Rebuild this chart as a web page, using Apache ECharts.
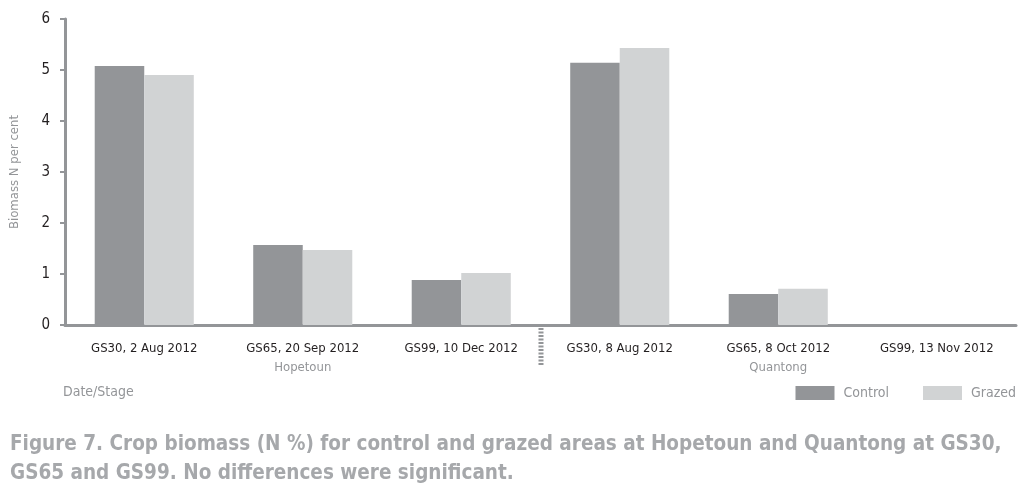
<!DOCTYPE html>
<html>
<head>
<meta charset="utf-8">
<script src="https://cdn.jsdelivr.net/npm/echarts@6/dist/echarts.min.js"></script>
<style>
html,body{margin:0;padding:0;background:#fff;}
#c{width:1019px;height:498px;}
</style>
</head>
<body>
<div id="c"></div>
<script>
const categories = ["GS30, 2 Aug 2012","GS65, 20 Sep 2012","GS99, 10 Dec 2012","GS30, 8 Aug 2012","GS65, 8 Oct 2012","GS99, 13 Nov 2012"];
const groupLabels = ["", "Hopetoun", "", "", "Quantong", ""];
const controlValues = [5.08, 1.57, 0.88, 5.14, 0.61, 0];
const grazedValues = [4.90, 1.47, 1.02, 5.43, 0.71, 0];
const yTicks = [0, 1, 2, 3, 4, 5, 6];

const FONT = '"DejaVu Sans Condensed", "Liberation Sans Narrow", sans-serif';
const GREY = '#939598';
const LIGHT = '#d1d3d4';
const DARK = '#231f20';

const chart = echarts.init(document.getElementById('c'));
const option = {
  animation: false,
  backgroundColor: '#fff',
  textStyle: { fontFamily: FONT },
  title: {
    text: 'Figure 7. Crop biomass (N %) for control and grazed areas at Hopetoun and Quantong at GS30,\nGS65 and GS99. No differences were significant.',
    left: 5, top: 425,
    textStyle: { fontFamily: FONT, fontWeight: 'bold', fontSize: 20.5, color: '#a6a8ab', lineHeight: 29 }
  },
  legend: {
    right: 0, top: 381, padding: [5, 3, 5, 5],
    itemWidth: 39, itemHeight: 14, itemGap: 34,
    icon: 'rect',
    textStyle: { fontFamily: FONT, fontSize: 14, color: GREY, padding: [0, 0, 0, 4] },
    data: ['Control', 'Grazed']
  },
  grid: { left: 65, right: 3, top: 19, bottom: 173, containLabel: false },
  xAxis: {
    type: 'category',
    data: categories,
    name: 'Date/Stage',
    nameLocation: 'start',
    nameGap: 0,
    nameTextStyle: { fontFamily: FONT, fontSize: 14, color: GREY, align: 'left', verticalAlign: 'top', padding: [60, 0, 0, -2] },
    axisLine: { lineStyle: { color: GREY, width: 3 } },
    axisTick: { alignWithLabel: true, length: 5, lineStyle: { color: GREY, width: 3 } },
    axisLabel: {
      margin: 14, interval: 0,
      color: DARK, fontSize: 13, lineHeight: 19,
      formatter: function (v, i) {
        return groupLabels[i] ? v + '\n{g|' + groupLabels[i] + '}' : v;
      },
      rich: { g: { color: GREY, fontSize: 13, fontFamily: FONT, lineHeight: 19 } }
    }
  },
  yAxis: {
    type: 'value',
    min: 0, max: 6, interval: 1,
    name: 'Biomass N per cent',
    nameLocation: 'middle',
    nameGap: 44,
    nameTextStyle: { fontFamily: FONT, fontSize: 13, color: GREY },
    axisLine: { show: true, lineStyle: { color: GREY, width: 3 } },
    axisTick: { show: true, length: 5, lineStyle: { color: GREY, width: 2 } },
    axisLabel: { color: DARK, fontSize: 15, margin: 15, formatter: function (v) { return yTicks.indexOf(v) >= 0 ? String(v) : ''; } },
    splitLine: { show: false }
  },
  series: [
    { name: 'Control', type: 'bar', data: controlValues, barGap: '0%', barCategoryGap: '37.5%', itemStyle: { color: GREY } },
    { name: 'Grazed', type: 'bar', data: grazedValues, itemStyle: { color: LIGHT } }
  ]
};
chart.setOption(option);

// separator between the two sites
const x2 = chart.convertToPixel({ xAxisIndex: 0 }, 2);
const x3 = chart.convertToPixel({ xAxisIndex: 0 }, 3);
const y0 = chart.convertToPixel({ yAxisIndex: 0 }, 0);
const sepX = Math.round((x2 + x3) / 2);
chart.setOption({
  graphic: [{
    type: 'line',
    shape: { x1: sepX, y1: y0 + 3, x2: sepX, y2: y0 + 41 },
    style: { stroke: GREY, lineWidth: 5, lineDash: [2, 1.5] },
    silent: true
  }]
});
</script>
</body>
</html>
